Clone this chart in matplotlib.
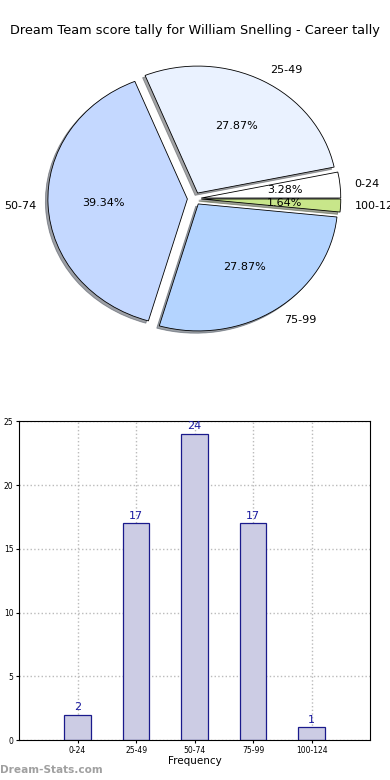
import numpy as np
import matplotlib.pyplot as plt

# score bands and how often each happened
bands = ['0-24', '25-49', '50-74', '75-99', '100-124']
counts = [2, 17, 24, 17, 1]
pie_colors = ['#ffffff', '#eaf2ff', '#c4d8ff', '#b4d4ff', '#c8e68a']
bar_color = '#ccccE4'
edge_color = '#1a1a8c'

fig = plt.figure(figsize=(3.9, 7.8), dpi=100)
fig.text(0.5, 0.961, 'Dream Team score tally for William Snelling - Career tally',
         ha='center', va='center', fontsize=9.3)

# --- pie (not equal aspect, slightly wider than tall like the original) ---
ax1 = fig.add_axes([0.0513, 0.5418, 0.894, 0.407])
wedges, labels, pcts = ax1.pie(counts, labels=bands, colors=pie_colors,
                               explode=[0.05] * len(counts), autopct='%1.2f%%',
                               shadow={'ox': -0.013, 'oy': -0.013},
                               startangle=0,
                               wedgeprops={'edgecolor': 'black', 'linewidth': 0.6},
                               textprops={'fontsize': 8})
ax1.set_aspect('auto')
ax1.set_xlim(-1.25, 1.25)
ax1.set_ylim(-1.25, 1.25)
labels[2].set_x(labels[2].get_position()[0] + 0.015)

# --- bars ---
ax2 = fig.add_axes([0.049, 0.051, 0.9, 0.409])
x = np.arange(len(bands))
ax2.bar(x, counts, width=0.45, color=bar_color, edgecolor=edge_color, linewidth=0.9, zorder=2)
for xi, c in zip(x, counts):
    ax2.text(xi, c + 0.2, str(c), ha='center', va='bottom', fontsize=8, color='#1a1aa0')
ax2.set_xlim(-1, 5)
ax2.set_ylim(0, 25)
ax2.set_xticks(x)
ax2.set_xticklabels(bands)
ax2.set_yticks([0, 5, 10, 15, 20, 25])
ax2.tick_params(labelsize=5.5, length=2, pad=2)
ax2.grid(True, linestyle=':', color='#bbbbbb', linewidth=1.0, zorder=0)
ax2.set_xlabel('Frequency', fontsize=7.5, labelpad=1)
ax2.set_ylabel('Scores in Tally', fontsize=7, labelpad=4)
ax2.yaxis.set_label_coords(-0.055, 0.5)

fig.text(0.0, 0.006, 'Dream-Stats.com', fontsize=7.6, color='#a0a0a0',
         fontweight='bold', ha='left', va='bottom')

fig.savefig('out.png', dpi=100)
